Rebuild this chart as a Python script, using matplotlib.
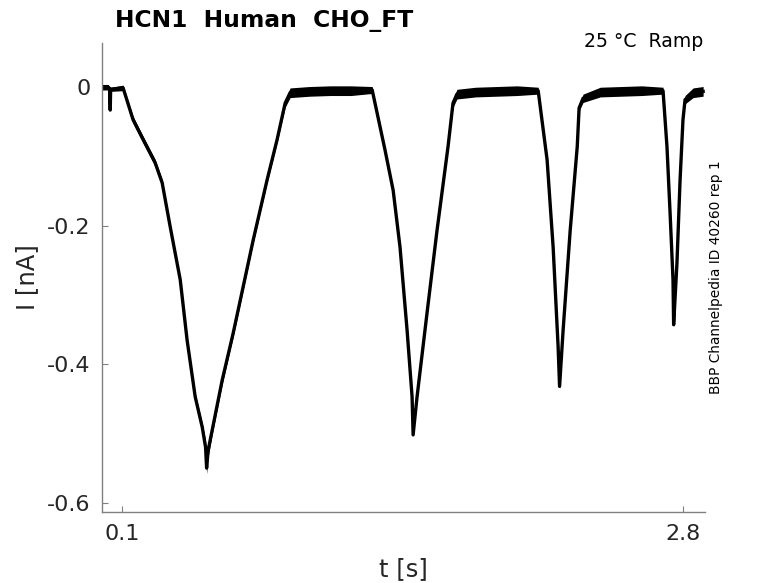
import matplotlib
matplotlib.use("Agg")
import matplotlib.pyplot as plt

plt.rcParams['font.family'] = ['DejaVu Sans']

# Trace key points (time in s, current in nA)
t_s = [0.000, 0.031, 0.038, 0.041, 0.043, 0.103, 0.151, 0.200, 0.257, 0.291,
       0.330, 0.378, 0.411, 0.450, 0.484, 0.500, 0.505, 0.512, 0.532, 0.580,
       0.633, 0.681, 0.729, 0.796, 0.844, 0.883, 0.907, 1.000, 1.100, 1.200,
       1.302, 1.364, 1.403, 1.436, 1.470, 1.494, 1.499, 1.518, 1.566, 1.614,
       1.667, 1.691, 1.710, 1.800, 1.900, 2.000, 2.101, 2.144, 2.173, 2.197,
       2.204, 2.221, 2.255, 2.289, 2.298, 2.317, 2.400, 2.500, 2.600, 2.702,
       2.721, 2.736, 2.750, 2.753, 2.769, 2.784, 2.798, 2.808, 2.847, 2.895]
i_nA = [0.000, 0.000, -0.002, -0.033, -0.003, -0.001, -0.047, -0.076, -0.109, -0.138,
        -0.202, -0.278, -0.365, -0.447, -0.491, -0.520, -0.550, -0.525, -0.495, -0.423,
        -0.355, -0.288, -0.221, -0.134, -0.076, -0.023, -0.008, -0.006, -0.005, -0.005,
        -0.004, -0.091, -0.149, -0.231, -0.351, -0.447, -0.502, -0.447, -0.326, -0.207,
        -0.086, -0.023, -0.010, -0.007, -0.006, -0.005, -0.005, -0.105, -0.231, -0.375,
        -0.432, -0.351, -0.207, -0.086, -0.030, -0.016, -0.007, -0.006, -0.005, -0.005,
        -0.086, -0.182, -0.278, -0.343, -0.254, -0.134, -0.047, -0.018, -0.008, -0.006]
# half-thickness of the recorded noise band around the trace (nA)
noise_nA = [0.004, 0.004, 0.003, 0.002, 0.003, 0.004, 0.005, 0.005, 0.005, 0.005,
            0.004, 0.003, 0.004, 0.005, 0.006, 0.010, 0.008, 0.010, 0.006, 0.006,
            0.005, 0.005, 0.004, 0.004, 0.004, 0.006, 0.007, 0.007, 0.007, 0.007,
            0.005, 0.003, 0.003, 0.002, 0.002, 0.002, 0.003, 0.002, 0.002, 0.002,
            0.003, 0.006, 0.007, 0.007, 0.007, 0.007, 0.005, 0.002, 0.002, 0.002,
            0.003, 0.002, 0.002, 0.002, 0.004, 0.006, 0.007, 0.007, 0.007, 0.005,
            0.002, 0.002, 0.002, 0.003, 0.002, 0.002, 0.004, 0.006, 0.007, 0.007]

x_ticks = [0.1, 2.8]
x_ticklabels = ["0.1", "2.8"]
y_ticks = [-0.6, -0.4, -0.2, 0.0]
y_ticklabels = ["-0.6", "-0.4", "-0.2", "0"]

title_text = "HCN1  Human  CHO_FT"
cond_text = "25 \u00b0C  Ramp"
side_text = "BBP Channelpedia ID 40260 rep 1"

W, H = 778, 583
fig = plt.figure(figsize=(W / 100, H / 100), dpi=100)
ax = fig.add_axes([101.7 / W, 1 - 511.7 / H, (705 - 101.7) / W, (511.7 - 42.7) / H])

lower = [v - n for v, n in zip(i_nA, noise_nA)]
upper = [v + n for v, n in zip(i_nA, noise_nA)]
ax.fill_between(t_s, lower, upper, color='black', lw=0)
ax.plot(t_s, i_nA, color='black', lw=2.4, solid_joinstyle='round')

ax.set_xlim(0.0, 2.904)
ax.set_ylim(-0.613, 0.0643)
ax.set_xticks(x_ticks)
ax.set_xticklabels(x_ticklabels)
ax.set_yticks(y_ticks)
ax.set_yticklabels(y_ticklabels)

grey = '#808080'
for s in ['top', 'right']:
    ax.spines[s].set_visible(False)
for s in ['left', 'bottom']:
    ax.spines[s].set_color(grey)
    ax.spines[s].set_linewidth(1.0)
ax.tick_params(axis='both', direction='in', length=4.3, width=0.8, color=grey,
               labelsize=16, labelcolor='#262626')
ax.tick_params(axis='x', pad=9)
ax.tick_params(axis='y', pad=8)

fig.text(403.4 / W, 1 - 576 / H, "t [s]", ha='center', va='baseline',
         fontsize=17.5, color='#262626')
fig.text(27 / W, 1 - 277 / H, "I [nA]", ha='center', va='center', rotation=90,
         fontsize=17.5, color='#262626')
fig.text(115 / W, 1 - 26.5 / H, title_text, ha='left', va='baseline',
         fontsize=16.8, fontweight='bold', color='black')
fig.text(703 / W, 1 - 46.7 / H, cond_text, ha='right', va='baseline',
         fontsize=13.6, color='black')
fig.text(716 / W, 1 - 277 / H, side_text, ha='center', va='center', rotation=90,
         fontsize=9.9, color='black')

fig.savefig("out.png", dpi=100)
